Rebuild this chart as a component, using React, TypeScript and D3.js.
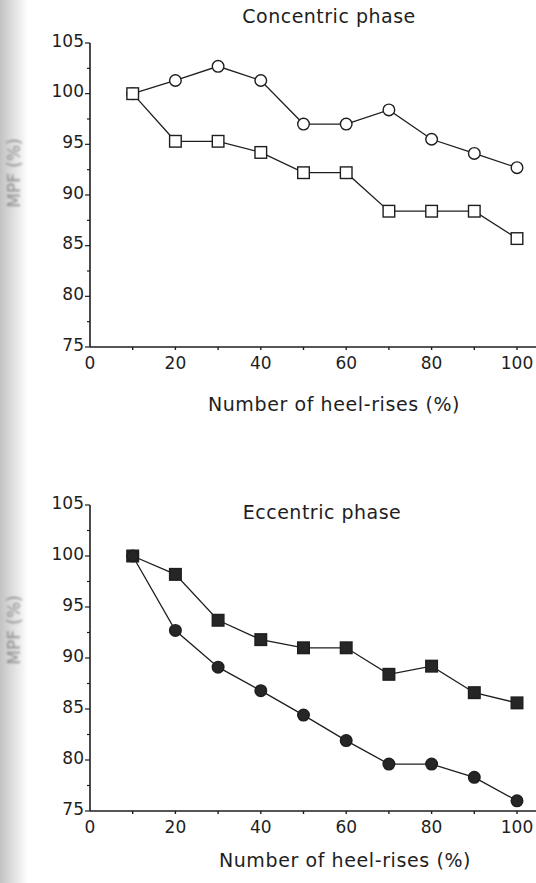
import { useEffect, useRef } from 'react';
import * as d3 from 'd3';

const heelRises = [10, 20, 30, 40, 50, 60, 70, 80, 90, 100];
const xTicks = [0, 20, 40, 60, 80, 100];
const yTicks = [75, 80, 85, 90, 95, 100, 105];

// concentric phase
const concCircles = [100, 101.3, 102.7, 101.3, 97.0, 97.0, 98.4, 95.5, 94.1, 92.7];
const concSquares = [100, 95.3, 95.3, 94.2, 92.2, 92.2, 88.4, 88.4, 88.4, 85.7];

// eccentric phase
const eccSquares = [100, 98.2, 93.7, 91.8, 91.0, 91.0, 88.4, 89.2, 86.6, 85.6];
const eccCircles = [100, 92.7, 89.1, 86.8, 84.4, 81.9, 79.6, 79.6, 78.3, 76.0];

const font = '"DejaVu Sans", Verdana, sans-serif';
const ink = '#1e1e1e';

function App() {
  const svgRef = useRef(null);

  useEffect(() => {
    const svg = d3.select(svgRef.current);
    svg.selectAll('*').remove();

    const defs = svg.append('defs');
    // scanner shadow on the left edge
    const grad = defs.append('linearGradient').attr('id', 'edge');
    grad.append('stop').attr('offset', '0%').attr('stop-color', '#c2c2c2');
    grad.append('stop').attr('offset', '35%').attr('stop-color', '#d8d8d8');
    grad.append('stop').attr('offset', '100%').attr('stop-color', '#ffffff');
    defs.append('filter').attr('id', 'soft')
      .append('feGaussianBlur').attr('stdDeviation', 0.9);
    svg.append('rect').attr('x', 0).attr('y', 0).attr('width', 28).attr('height', 883).attr('fill', 'url(#edge)');

    const x = d3.scaleLinear().domain([0, 100]).range([90, 517]);

    const panel = (top, bottom, title, titleX, titleY, labelX, labelY, series, yLabelY) => {
      const y = d3.scaleLinear().domain([75, 105]).range([bottom, top]);
      const g = svg.append('g');

      // y axis
      g.append('line').attr('x1', x(0)).attr('x2', x(0)).attr('y1', y(105)).attr('y2', y(75))
        .attr('stroke', ink).attr('stroke-width', 1.6);
      d3.range(75, 105.1, 2.5).forEach(v => {
        const major = v % 5 === 0;
        g.append('line').attr('x1', x(0) - (major ? 5 : 3)).attr('x2', x(0))
          .attr('y1', y(v)).attr('y2', y(v)).attr('stroke', ink).attr('stroke-width', 1.2);
      });
      yTicks.forEach(v => {
        g.append('text').attr('x', x(0) - 6).attr('y', y(v) + 3.5)
          .attr('text-anchor', 'end').attr('font-family', font).attr('font-size', 17)
          .attr('fill', ink).text(v);
      });

      // x axis
      g.append('line').attr('x1', x(0)).attr('x2', 536).attr('y1', y(75)).attr('y2', y(75))
        .attr('stroke', ink).attr('stroke-width', 1.6);
      d3.range(10, 101, 10).forEach(v => {
        g.append('line').attr('x1', x(v)).attr('x2', x(v)).attr('y1', y(75)).attr('y2', y(75) + 3)
          .attr('stroke', ink).attr('stroke-width', 1.4);
      });
      xTicks.forEach(v => {
        g.append('text').attr('x', x(v)).attr('y', y(75) + 22)
          .attr('text-anchor', 'middle').attr('font-family', font).attr('font-size', 17)
          .attr('fill', ink).text(v);
      });

      g.append('text').attr('x', labelX).attr('y', labelY)
        .attr('text-anchor', 'middle').attr('font-family', font).attr('font-size', 19)
        .attr('letter-spacing', 0.6).attr('fill', ink).text('Number of heel-rises (%)');

      g.append('text').attr('x', titleX).attr('y', titleY)
        .attr('text-anchor', 'middle').attr('font-family', font).attr('font-size', 19)
        .attr('letter-spacing', 0.5).attr('fill', ink).text(title);

      g.append('text').attr('transform', `translate(20, ${yLabelY}) rotate(-90)`)
        .attr('text-anchor', 'middle').attr('font-family', font).attr('font-size', 17)
        .attr('fill', '#8c8c8c').attr('filter', 'url(#soft)').text('MPF (%)');

      const line = d3.line().x((d, i) => x(heelRises[i])).y(d => y(d));

      series.forEach(s => {
        g.append('path').attr('d', line(s.values)).attr('fill', 'none')
          .attr('stroke', ink).attr('stroke-width', 1.3);
      });
      series.forEach(s => {
        const fill = s.filled ? '#262626' : '#ffffff';
        if (s.shape === 'circle') {
          g.selectAll(null).data(s.values).join('circle')
            .attr('cx', (d, i) => x(heelRises[i])).attr('cy', d => y(d))
            .attr('r', 5.8).attr('fill', fill).attr('stroke', ink).attr('stroke-width', 1.4);
        } else {
          g.selectAll(null).data(s.values).join('rect')
            .attr('x', (d, i) => x(heelRises[i]) - 5.8).attr('y', d => y(d) - 5.8)
            .attr('width', 11.6).attr('height', 11.6).attr('fill', fill)
            .attr('stroke', ink).attr('stroke-width', 1.4);
        }
      });
    };

    panel(43, 347, 'Concentric phase', 329, 23, 334, 411, [
      { values: concCircles, shape: 'circle', filled: false },
      { values: concSquares, shape: 'rect', filled: false },
    ], 173);

    panel(505, 811, 'Eccentric phase', 322, 519, 345, 867, [
      { values: eccSquares, shape: 'rect', filled: true },
      { values: eccCircles, shape: 'circle', filled: true },
    ], 630);
  }, []);

  return (
    <svg ref={svgRef} width={536} height={883}
      style={{ position: 'absolute', left: 0, top: 0, background: '#ffffff' }} />
  );
}

export default App;
